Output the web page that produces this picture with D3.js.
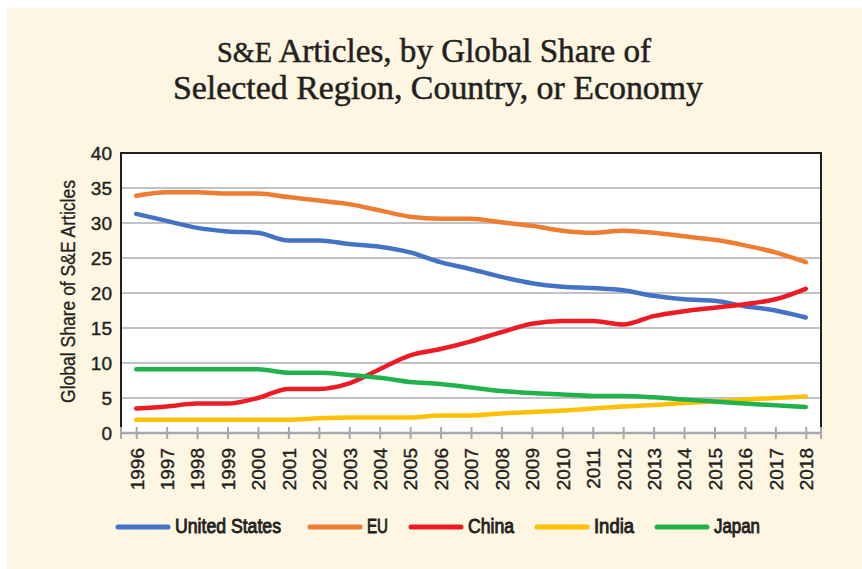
<!DOCTYPE html>
<html lang="en">
<head>
  <meta charset="UTF-8">
  <script src="https://d3js.org/d3.v7.min.js"></script>
  <title>S&E Articles</title>
  <style>
    body { margin: 0; background: #fff; }
  </style>
</head>
<body>
  <div id="wrapper"></div>
  <script>
    const years = ["1996","1997","1998","1999","2000","2001","2002","2003","2004","2005","2006","2007",
                   "2008","2009","2010","2011","2012","2013","2014","2015","2016","2017","2018"]
    const unitedStates = [31.3,30.3,29.3,28.8,28.6,27.5,27.5,27.0,26.6,25.8,24.4,23.4,22.3,21.4,20.9,20.7,20.4,19.6,19.1,18.9,18.1,17.5,16.5]
    const eu = [33.9,34.4,34.4,34.2,34.2,33.7,33.2,32.7,31.8,30.9,30.6,30.6,30.1,29.6,28.9,28.6,28.9,28.6,28.1,27.6,26.8,25.8,24.4]
    const china = [3.5,3.8,4.2,4.2,5.0,6.3,6.3,7.1,9.1,11.1,12.0,13.1,14.4,15.6,16.0,16.0,15.5,16.7,17.4,17.9,18.4,19.1,20.6]
    const india = [1.9,1.9,1.9,1.9,1.9,1.9,2.1,2.2,2.2,2.2,2.5,2.5,2.8,3.0,3.2,3.5,3.8,4.0,4.3,4.5,4.8,5.0,5.2]
    const japan = [9.1,9.1,9.1,9.1,9.1,8.6,8.6,8.3,7.9,7.3,7.0,6.5,6.0,5.7,5.5,5.3,5.3,5.1,4.8,4.5,4.2,3.95,3.7]
    const seriesNames = ["United States","EU","China","India","Japan"]
    const yTicks = [0,5,10,15,20,25,30,35,40]

    const series = [
      {name: seriesNames[0], values: unitedStates, color: "#4472c4"},
      {name: seriesNames[1], values: eu, color: "#ed7d31"},
      {name: seriesNames[2], values: china, color: "#ed1c24"},
      {name: seriesNames[3], values: india, color: "#ffc000"},
      {name: seriesNames[4], values: japan, color: "#22b24c"}
    ]

    const dimensions = {
      width: 862,
      height: 569,
      margin: {top: 153, right: 41, bottom: 136, left: 121}
    }
    dimensions.boundedWidth = dimensions.width - dimensions.margin.left - dimensions.margin.right
    dimensions.boundedHeight = dimensions.height - dimensions.margin.top - dimensions.margin.bottom

    const sans = "'Liberation Sans', Arial, sans-serif"
    const ink = "#231f20"

    const svg = d3.select("#wrapper")
        .append("svg")
        .attr("width", dimensions.width)
        .attr("height", dimensions.height)
        .style("display", "block")

    // cream panel
    svg.append("rect")
        .attr("x", 7).attr("y", 8)
        .attr("width", dimensions.width - 7).attr("height", dimensions.height - 8)
        .attr("fill", "#fdf6e2")

    // title
    const title = svg.append("text")
        .attr("fill", ink)
        .attr("stroke", ink)
        .attr("stroke-width", 0.5)
        .style("font-family", "'Liberation Serif', serif")
        .style("font-size", "34px")
    const t1 = title.append("tspan").attr("x", 217).attr("y", 62)
        .attr("textLength", 434).attr("lengthAdjust", "spacingAndGlyphs")
    t1.append("tspan").style("font-size", "29px").text("S&E")
    t1.append("tspan").text(" Articles, by Global Share of")
    title.append("tspan").attr("x", 173).attr("y", 99)
        .attr("textLength", 530).attr("lengthAdjust", "spacingAndGlyphs")
        .text("Selected Region, Country, or Economy")

    const bounds = svg.append("g")
        .attr("transform", `translate(${dimensions.margin.left},${dimensions.margin.top})`)

    const xScale = d3.scalePoint()
        .domain(years)
        .range([0, dimensions.boundedWidth])
        .padding(0.5)

    const yScale = d3.scaleLinear()
        .domain([0, 40])
        .range([dimensions.boundedHeight, 0])

    bounds.append("rect")
        .attr("width", dimensions.boundedWidth)
        .attr("height", dimensions.boundedHeight)
        .attr("fill", "#fff")

    // gridlines
    bounds.append("g")
        .selectAll("line")
        .data(yTicks.filter(d => d > 0 && d < 40))
        .join("line")
        .attr("x1", 0).attr("x2", dimensions.boundedWidth)
        .attr("y1", d => yScale(d)).attr("y2", d => yScale(d))
        .attr("stroke", "#c2c2c6")
        .attr("stroke-width", 2)

    // x axis (gray line with ticks crossing it)
    const xAxis = bounds.append("g")
        .attr("transform", `translate(0,${dimensions.boundedHeight})`)
        .call(d3.axisBottom(xScale).tickSize(6).tickSizeOuter(0))
    xAxis.select(".domain").remove()
    xAxis.selectAll(".tick line")
        .attr("y1", -6).attr("y2", 6)
        .attr("stroke", "#a7a7ae").attr("stroke-width", 2)
    xAxis.selectAll(".tick text")
        .attr("transform", "rotate(-90)")
        .attr("x", -15).attr("y", 0).attr("dy", "0.36em")
        .attr("text-anchor", "end")
        .attr("fill", ink)
        .attr("stroke", ink)
        .attr("stroke-width", 0.4)
        .style("font-family", sans)
        .style("font-size", "19px")
    xAxis.append("g")
        .selectAll("line")
        .data([0, dimensions.boundedWidth])
        .join("line")
        .attr("x1", d => d).attr("x2", d => d)
        .attr("y1", -6).attr("y2", 6)
        .attr("stroke", "#a7a7ae").attr("stroke-width", 2)
    xAxis.append("line")
        .attr("x1", 0).attr("x2", dimensions.boundedWidth)
        .attr("stroke", "#a7a7ae").attr("stroke-width", 2.5)

    // frame: left, top, right in black
    bounds.append("path")
        .attr("d", `M0,${dimensions.boundedHeight - 6}V0H${dimensions.boundedWidth}V${dimensions.boundedHeight - 6}`)
        .attr("fill", "none")
        .attr("stroke", ink)
        .attr("stroke-width", 2)

    // y axis labels
    const yAxis = bounds.append("g")
        .call(d3.axisLeft(yScale).tickValues(yTicks).tickSize(0).tickPadding(9))
    yAxis.select(".domain").remove()
    yAxis.selectAll(".tick text")
        .attr("fill", ink)
        .attr("stroke", ink)
        .attr("stroke-width", 0.4)
        .style("font-family", sans)
        .style("font-size", "19px")

    svg.append("text")
        .attr("transform", `translate(75,403) rotate(-90)`)
        .attr("textLength", 223)
        .attr("lengthAdjust", "spacingAndGlyphs")
        .attr("fill", ink)
        .attr("stroke", ink)
        .attr("stroke-width", 0.3)
        .style("font-family", sans)
        .style("font-size", "20px")
        .text("Global Share of S&E Articles")

    // lines
    const lineGen = d3.line()
        .x((d, i) => xScale(years[i]))
        .y(d => yScale(d))
        .curve(d3.curveMonotoneX)

    bounds.append("g")
        .selectAll("path")
        .data(series)
        .join("path")
        .attr("d", d => lineGen(d.values))
        .attr("fill", "none")
        .attr("stroke", d => d.color)
        .attr("stroke-width", 4.5)
        .attr("stroke-linecap", "round")
        .attr("stroke-linejoin", "round")

    // legend
    const legendX = [118, 310, 411, 537, 657]
    const legendTextW = [106, 21, 46, 40, 46]
    const legend = svg.append("g")
        .selectAll("g")
        .data(series)
        .join("g")
        .attr("transform", (d, i) => `translate(${legendX[i]},527)`)
    legend.append("line")
        .attr("x1", 0).attr("x2", 50)
        .attr("stroke", d => d.color)
        .attr("stroke-width", 5)
        .attr("stroke-linecap", "round")
    legend.append("text")
        .attr("x", 57)
        .attr("y", 5.5)
        .attr("textLength", (d, i) => legendTextW[i])
        .attr("lengthAdjust", "spacingAndGlyphs")
        .attr("fill", ink)
        .attr("stroke", ink)
        .attr("stroke-width", 0.9)
        .style("font-family", sans)
        .style("font-size", "20px")
        .text(d => d.name)
  </script>
</body>
</html>
